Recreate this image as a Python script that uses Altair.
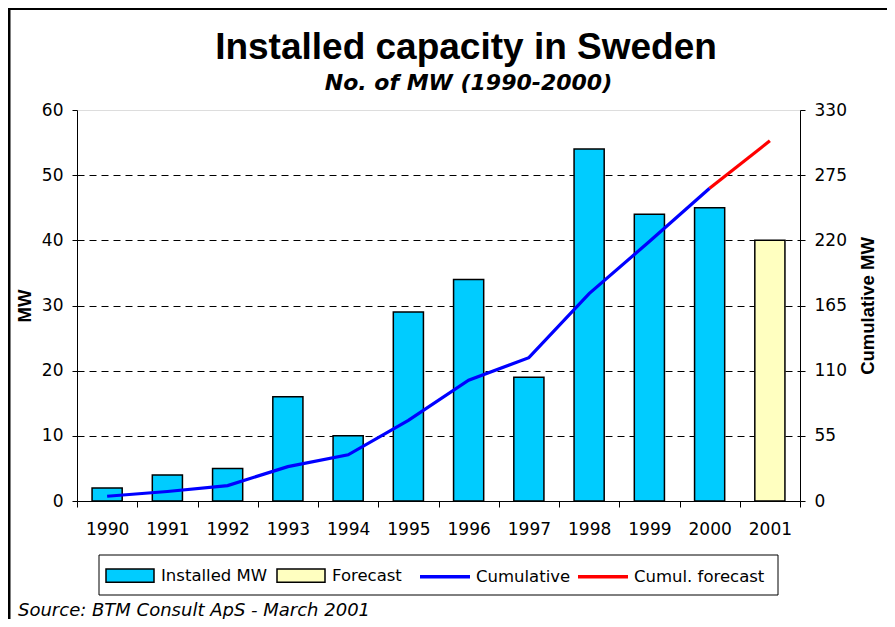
import altair as alt
import pandas as pd

# ---- data ----
years = [str(y) for y in range(1990, 2002)]
installed_mw = [2, 4, 5, 16, 10, 29, 34, 19, 54, 44, 45, 40]
bar_kind = ["Installed MW"] * 11 + ["Forecast"]

cum_years = years[:11]
cumulative = [4, 8, 13, 29, 39, 68, 102, 121, 175, 219, 264]
fc_years = ["2000", "2001"]
cum_forecast = [264, 304]

left_ticks = [0, 10, 20, 30, 40, 50, 60]
right_ticks = [0, 55, 110, 165, 220, 275, 330]

bar_domain = ["Installed MW", "Forecast"]
bar_colors = ["#00CCFF", "#FFFFC0"]
line_domain = ["Cumulative", "Cumul. forecast"]
line_colors = ["#0000FF", "#FF0000"]

title_text = "Installed capacity in Sweden"
subtitle_text = "No. of MW (1990-2000)"
source_text = "Source: BTM Consult ApS - March 2001"

df_bars = pd.DataFrame({"year": years, "mw": installed_mw, "kind": bar_kind})
df_line = pd.DataFrame({
    "year": cum_years + fc_years,
    "cum": cumulative + cum_forecast,
    "series": ["Cumulative"] * len(cum_years) + ["Cumul. forecast"] * len(fc_years),
})

LABEL_FONT = "DejaVu Sans"
TITLE_FONT = "Liberation Sans"

x_enc = alt.X(
    "year:N",
    sort=years,
    scale=alt.Scale(domain=years, paddingInner=0, paddingOuter=0),
    axis=alt.Axis(
        title=None, labelAngle=0, tickBand="extent", tickSize=6,
        tickColor="black", domainColor="black", labelColor="black",
        labelFont=LABEL_FONT, labelFontSize=17, labelPadding=14, grid=False,
    ),
)

bars = alt.Chart(df_bars).mark_bar(
    width=alt.RelativeBandSize(0.5), stroke="black", strokeWidth=1.5
).encode(
    x=x_enc,
    y=alt.Y(
        "mw:Q",
        scale=alt.Scale(domain=[0, 60], nice=False),
        axis=alt.Axis(
            title="MW", values=left_ticks, orient="left",
            grid=True, gridColor="black", gridDash=[7, 5], gridWidth=1,
            gridOpacity={"condition": {"test": "datum.value >= 60 || datum.value <= 0", "value": 0}, "value": 1},
            tickSize=5, tickColor="black", domainColor="black",
            labelColor="black", labelFont=LABEL_FONT, labelFontSize=17, labelPadding=9,
            titleFont=TITLE_FONT, titleFontSize=18.5, titleFontWeight="bold",
            titleColor="black", titlePadding=7,
        ),
    ),
    fill=alt.Fill(
        "kind:N",
        scale=alt.Scale(domain=bar_domain, range=bar_colors),
        legend=alt.Legend(
            title=None, orient="none", legendX=28, legendY=440.5,
            direction="horizontal", padding=0,
            symbolType="M-1,-0.28L1,-0.28L1,0.28L-1,0.28Z", symbolSize=2304,
            symbolStrokeColor="black", symbolStrokeWidth=1.5, symbolOpacity=1,
            labelFont=LABEL_FONT, labelFontSize=16.5, labelColor="black",
            labelOffset=6, columnPadding=6,
        ),
    ),
)

lines = alt.Chart(df_line).mark_line(strokeWidth=3.2).encode(
    x=x_enc,
    y=alt.Y(
        "cum:Q",
        scale=alt.Scale(domain=[0, 330], nice=False),
        axis=alt.Axis(
            title="Cumulative MW", values=right_ticks, orient="right", grid=False,
            tickSize=5, tickColor="black", domainColor="black",
            labelColor="black", labelFont=LABEL_FONT, labelFontSize=17, labelPadding=9,
            titleFont=TITLE_FONT, titleFontSize=18.5, titleFontWeight="bold",
            titleColor="black", titlePadding=12, titleAngle=270, titleBaseline="top",
        ),
    ),
    stroke=alt.Stroke(
        "series:N",
        scale=alt.Scale(domain=line_domain, range=line_colors),
        legend=alt.Legend(
            title=None, orient="none", legendX=341, legendY=439.5,
            direction="horizontal", padding=0,
            symbolType="stroke", symbolSize=2500, symbolStrokeWidth=3.5,
            labelFont=LABEL_FONT, labelFontSize=16.5, labelColor="black",
            labelOffset=4, columnPadding=0,
        ),
    ),
)

one = alt.Data(values=[{"k": 1}])

outer_frame = alt.Chart(one).mark_rect(
    fill="white", fillOpacity=0, stroke="black", strokeWidth=3
).encode(
    x=alt.value(-68), x2=alt.value(900), y=alt.value(-101.5), y2=alt.value(600)
)

legend_box = alt.Chart(one).mark_rect(
    fill="white", fillOpacity=0, stroke="black", strokeWidth=1
).encode(
    x=alt.value(22), x2=alt.value(701), y=alt.value(445), y2=alt.value(485)
)

title = alt.Chart(one).mark_text(
    text=title_text, font=TITLE_FONT, fontWeight="bold", fontSize=37,
    align="center", baseline="alphabetic", color="black",
).encode(x=alt.value(389), y=alt.value(-51))

subtitle = alt.Chart(one).mark_text(
    text=subtitle_text, font=LABEL_FONT, fontWeight="bold", fontStyle="italic",
    fontSize=22, align="center", baseline="alphabetic", color="black",
).encode(x=alt.value(391.5), y=alt.value(-20))

source = alt.Chart(one).mark_text(
    text=source_text, font=LABEL_FONT,
    fontStyle="italic", fontSize=18, align="left", baseline="alphabetic",
    color="black",
).encode(x=alt.value(-59), y=alt.value(506))

chart = alt.layer(
    outer_frame, legend_box, bars, lines, title, subtitle, source
).resolve_scale(
    y="independent"
).properties(
    width=723,
    height=391,
    autosize=alt.AutoSizeParams(type="none"),
    padding={"left": 69, "top": 102, "right": 87, "bottom": 118},
).configure_view(
    fill="#C0C0C0", stroke="#808080", strokeWidth=1
).configure(background="white")

chart.save("out.html", embed_options={"renderer": "svg", "actions": False})
